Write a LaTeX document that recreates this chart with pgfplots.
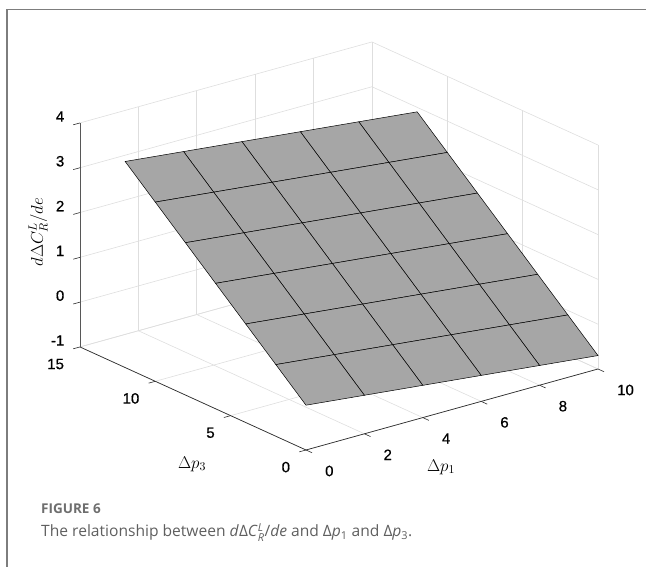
\RequirePackage{fix-cm}
\documentclass[border=0pt]{standalone}
\usepackage[no-math]{fontspec}
\usepackage{amsmath}
\setmainfont{Open Sans}
\newfontfamily\arialfont{Liberation Sans}[FakeBold=0.6]
\usepackage{pgfplots}
\pgfplotsset{compat=1.18}
\usetikzlibrary{calc}
\definecolor{surfgray}{RGB}{166,166,166}
\definecolor{gridgray}{RGB}{222,222,222}
\definecolor{axgray}{RGB}{45,45,45}
\definecolor{capgray}{RGB}{95,95,95}
\definecolor{figgray}{RGB}{110,110,110}
\definecolor{framegray}{RGB}{125,125,125}
\begin{document}
\begin{tikzpicture}
\begin{axis}[
  x={(29.2pt,8.1pt)}, y={(-15.07pt,6.87pt)}, z={(0pt,44.8pt)},
  xmin=0, xmax=10, ymin=0, ymax=15, zmin=-1, zmax=4,
  xtick={0,2,4,6,8,10}, ytick={0,5,10,15}, ztick={-1,0,1,2,3,4},
  grid=major,
  major grid style={gridgray, line width=0.6pt},
  axis line style={draw=none},
  tick align=outside,
  tick pos=left,
  major tick length=6pt,
  tick style={draw=none},
  tick label style={font=\arialfont\fontsize{15}{17}\selectfont, text=black, inner sep=0pt},
  /pgf/number format/assume math mode=true,
  xticklabel style={anchor=west, xshift=13.5pt, yshift=-18.5pt},
  yticklabel style={anchor=east, xshift=-10pt, yshift=-15.5pt},
  zticklabel style={anchor=east, xshift=-10pt, yshift=4pt},
  colormap={flatgray}{rgb255=(166,166,166) rgb255=(166,166,166)},
  clip=false,
]
\addplot3[surf, shader=faceted, faceted color=black, line width=0.5pt, mesh/cols=6, point meta=z] coordinates {
(0,0,0) (2,0,-0.14) (4,0,-0.28) (6,0,-0.42) (8,0,-0.56) (10,0,-0.70)
(0,2,0.60) (2,2,0.46) (4,2,0.32) (6,2,0.18) (8,2,0.04) (10,2,-0.10)
(0,4,1.20) (2,4,1.06) (4,4,0.92) (6,4,0.78) (8,4,0.64) (10,4,0.50)
(0,6,1.80) (2,6,1.66) (4,6,1.52) (6,6,1.38) (8,6,1.24) (10,6,1.10)
(0,8,2.40) (2,8,2.26) (4,8,2.12) (6,8,1.98) (8,8,1.84) (10,8,1.70)
(0,10,3.00) (2,10,2.86) (4,10,2.72) (6,10,2.58) (8,10,2.44) (10,10,2.30)
(0,12,3.60) (2,12,3.46) (4,12,3.32) (6,12,3.18) (8,12,3.04) (10,12,2.90)
};
\draw[axgray, line width=0.7pt] (axis cs:0,0,-1) -- (axis cs:10,0,-1);
\draw[axgray, line width=0.7pt] (axis cs:0,0,-1) -- (axis cs:0,15,-1);
\draw[axgray!80, line width=0.7pt] (axis cs:0,15,-1) -- (axis cs:0,15,4);
% tick marks
\draw[axgray, line width=0.6pt] (axis cs:0,0,-1) -- (axis cs:0,-0.4,-1);
\draw[axgray, line width=0.6pt] (axis cs:2,0,-1) -- (axis cs:2,-0.4,-1);
\draw[axgray, line width=0.6pt] (axis cs:4,0,-1) -- (axis cs:4,-0.4,-1);
\draw[axgray, line width=0.6pt] (axis cs:6,0,-1) -- (axis cs:6,-0.4,-1);
\draw[axgray, line width=0.6pt] (axis cs:8,0,-1) -- (axis cs:8,-0.4,-1);
\draw[axgray, line width=0.6pt] (axis cs:10,0,-1) -- (axis cs:10,-0.4,-1);
\draw[axgray, line width=0.6pt] (axis cs:0,0,-1) -- (axis cs:-0.23,0,-1);
\draw[axgray, line width=0.6pt] (axis cs:0,5,-1) -- (axis cs:-0.23,5,-1);
\draw[axgray, line width=0.6pt] (axis cs:0,10,-1) -- (axis cs:-0.23,10,-1);
\draw[axgray, line width=0.6pt] (axis cs:0,15,-1) -- (axis cs:-0.23,15,-1);
\draw[axgray, line width=0.6pt] (axis cs:0,15,0) -- (axis cs:-0.23,15,0);
\draw[axgray, line width=0.6pt] (axis cs:0,15,1) -- (axis cs:-0.23,15,1);
\draw[axgray, line width=0.6pt] (axis cs:0,15,2) -- (axis cs:-0.23,15,2);
\draw[axgray, line width=0.6pt] (axis cs:0,15,3) -- (axis cs:-0.23,15,3);
\draw[axgray, line width=0.6pt] (axis cs:0,15,4) -- (axis cs:-0.23,15,4);
\coordinate (O) at (axis cs:0,0,-1);
\end{axis}
\begin{scope}[shift={($(O)-(306pt,117pt)$)}, x=1pt, y=1pt]
  \draw[framegray, line width=1.6pt] (7,-5) -- (7,557.5) -- (660,557.5);
  \node[rotate=90, inner sep=0pt] at (38,335) {\fontsize{17}{20}\selectfont $d\Delta C_R^L/de$};
  \node[inner sep=0pt] at (192,103) {\fontsize{17}{20}\selectfont $\Delta p_3$};
  \node[inner sep=0pt] at (441,100) {\fontsize{17}{20}\selectfont $\Delta p_1$};
  \node[anchor=base west, inner sep=0pt, text=figgray] at (41,53) {\fontsize{13.5}{16}\selectfont\bfseries FIGURE 6};
  \node[anchor=base west, inner sep=0pt, text=capgray] at (41,30) {\fontsize{15.6}{19}\selectfont The relationship between \textit{d}Δ\textit{C}\ensuremath{^{\text{\itshape L}}_{\text{\itshape R}}}/\textit{de} and Δ\textit{p}\ensuremath{_{\text{1}}} and Δ\textit{p}\ensuremath{_{\text{3}}}.};
\end{scope}
\pgfresetboundingbox
\path[use as bounding box] ($(O)-(306pt,117pt)$) rectangle ($(O)+(340pt,450pt)$);
\end{tikzpicture}
\end{document}
